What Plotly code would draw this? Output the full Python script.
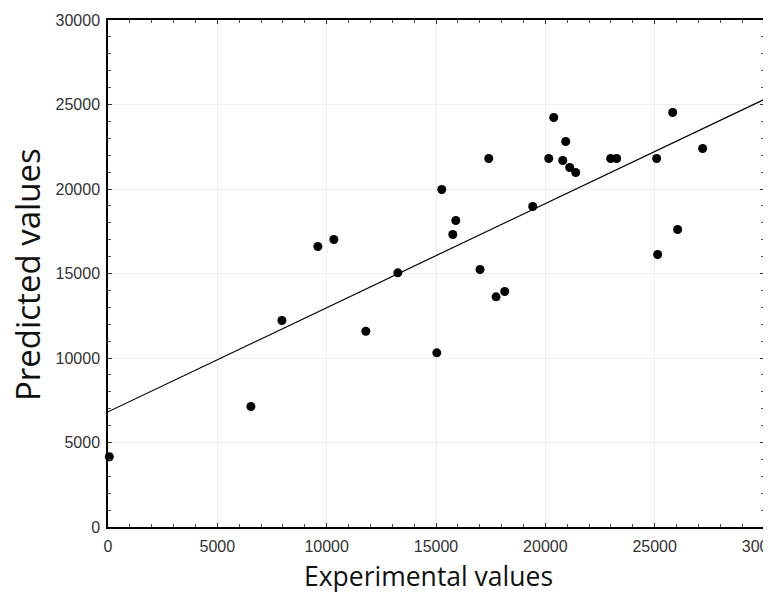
import plotly.graph_objects as go

experimental = [60, 6536, 7953, 9598, 10329, 11792, 13254, 15037, 15265, 15768,
                15905, 17015, 17413, 17747, 18144, 19424, 20155, 20384, 20795, 20932,
                21115, 21389, 22989, 23263, 25091, 25137, 25823, 26051, 27194]
predicted = [4154, 7130, 12219, 16598, 17012, 11586, 15041, 10307, 19970, 17308,
             18136, 15237, 21805, 13621, 13935, 18964, 21805, 24231, 21686, 22811,
             21272, 20976, 21805, 21805, 21805, 16124, 24527, 17604, 22396]

fit_x = [0, 30000]
fit_y = [6816, 25296]

x_title = "Experimental values"
y_title = "Predicted values"

fig = go.Figure()
fig.add_trace(go.Scatter(x=fit_x, y=fit_y, mode="lines",
                         line=dict(color="black", width=1.2), showlegend=False))
fig.add_trace(go.Scatter(x=experimental, y=predicted, mode="markers",
                         marker=dict(color="black", size=9), showlegend=False,
                         cliponaxis=False))

axis_common = dict(
    showline=True, linecolor="black", linewidth=1.5, mirror="ticks",
    ticks="inside", ticklen=4, tickcolor="#333", tickwidth=1,
    showgrid=True, gridcolor="#efefef", gridwidth=1,
    zeroline=False, automargin=False, ticklabeloverflow="allow",
    tickformat="d",
    tickfont=dict(family="Liberation Sans, Arial", size=16, color="#333"),
    minor=dict(ticks="inside", ticklen=3, tickcolor="#555", dtick=1000, showgrid=False),
)

fig.update_xaxes(range=[0, 30000], dtick=5000, tick0=0, ticklabelstandoff=4, **axis_common)
fig.update_yaxes(range=[0, 30000], dtick=5000, tick0=0, ticklabelstandoff=3, **axis_common)

fig.add_annotation(text=x_title, xref="paper", yref="paper", x=0.489, y=-0.097,
                   xanchor="center", yanchor="middle", showarrow=False,
                   font=dict(family="Open Sans", size=26.5, color="#111"))
fig.add_annotation(text=y_title, xref="paper", yref="paper", x=-0.123, y=0.4975,
                   xanchor="center", yanchor="middle", showarrow=False, textangle=-90,
                   font=dict(family="Open Sans", size=33, color="#111"))

fig.update_layout(
    width=763, height=584,
    margin=dict(l=100, r=7, t=12, b=64.5),
    paper_bgcolor="white", plot_bgcolor="white",
)

fig.write_html("out.html")
